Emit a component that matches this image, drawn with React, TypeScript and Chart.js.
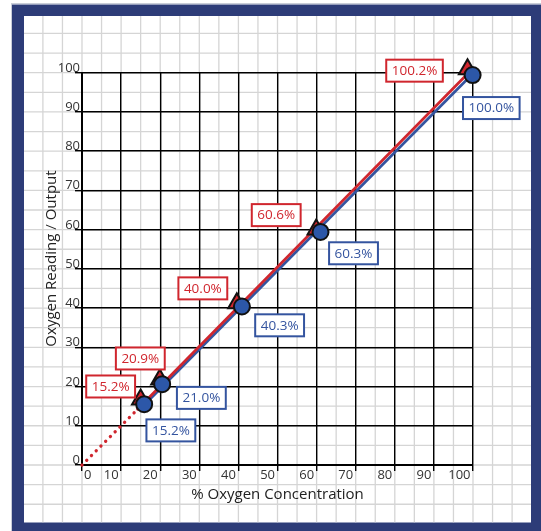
import React, { useEffect, useRef } from "react";
import { Chart, registerables } from "chart.js";

Chart.register(...registerables);

// ---- data ----
const redX = [15.0, 19.9, 39.6, 59.9, 98.6];
const redY = [16.7, 21.8, 41.2, 60.0, 100.9];
const blueX = [15.9, 20.5, 40.9, 61.0, 99.9];
const blueY = [15.5, 20.6, 40.4, 59.4, 99.4];
const redLabels = ["15.2%", "20.9%", "40.0%", "60.6%", "100.2%"];
const blueLabels = ["15.2%", "21.0%", "40.3%", "60.3%", "100.0%"];
const redLineX = [0, 14.2, 98.3];
const redLineY = [0, 14.2, 99.4];
const blueLineX = [15.9, 99.6];
const blueLineY = [15.3, 99.4];
const xTicks = [0, 10, 20, 30, 40, 50, 60, 70, 80, 90, 100];
const yTicks = [0, 10, 20, 30, 40, 50, 60, 70, 80, 90, 100];
const xTitle = "% Oxygen Concentration";
const yTitle = "Oxygen Reading / Output";

// ---- styles ----
const RED = "#d0262e";
const BLUE = "#34549f";
const NAVY = "#2d3c78";
const FONT = '"Open Sans", "Noto Sans", sans-serif';
const redLabelOffsets = [[-30, -13], [-19.5, -21], [-34, -15], [-40, -14.5], [-53, 1.5]];
const blueLabelOffsets = [[26.7, 26.2], [39.2, 13.7], [37.7, 18.8], [33, 21.3], [18.7, 33]];

const pts = (xs: number[], ys: number[]) => xs.map((x, i) => ({ x, y: ys[i] }));

const decorPlugin = {
  id: "decor",
  beforeDraw(chart: any) {
    const { ctx, width, height } = chart;
    const xs = chart.scales.x;
    const ys = chart.scales.y;
    ctx.save();
    ctx.fillStyle = "#ffffff";
    ctx.fillRect(0, 0, width, height);
    ctx.strokeStyle = "#c9cdd8";
    ctx.lineWidth = 1;
    ctx.strokeRect(11.5, 3.5, width, height);
    ctx.fillStyle = NAVY;
    ctx.fillRect(12, 4.5, width - 12, height - 4.5);
    const inL = 24, inT = 16, inR = 531, inB = 522.5;
    ctx.fillStyle = "#ffffff";
    ctx.fillRect(inL, inT, inR - inL, inB - inT);
    ctx.beginPath();
    ctx.rect(inL, inT, inR - inL, inB - inT);
    ctx.clip();
    ctx.strokeStyle = "#d5d5d5";
    ctx.lineWidth = 1.3;
    for (let v = -30; v <= 140; v += 5) {
      const px = xs.getPixelForValue(v);
      ctx.beginPath();
      ctx.moveTo(px, inT);
      ctx.lineTo(px, inB);
      ctx.stroke();
      const py = ys.getPixelForValue(v);
      ctx.beginPath();
      ctx.moveTo(inL, py);
      ctx.lineTo(inR, py);
      ctx.stroke();
    }
    ctx.restore();
  },
  afterDatasetsDraw(chart: any) {
    const { ctx } = chart;
    const xs = chart.scales.x;
    const ys = chart.scales.y;
    ctx.save();
    ctx.fillStyle = "#333333";
    ctx.font = `13px ${FONT}`;
    ctx.textBaseline = "alphabetic";
    ctx.textAlign = "right";
    yTicks.forEach((v) => {
      ctx.fillText(String(v), 80, ys.getPixelForValue(v) - 1);
    });
    xTicks.forEach((v) => {
      const px = xs.getPixelForValue(v);
      if (v === 0) {
        ctx.textAlign = "left";
        ctx.fillText(String(v), px + 2, 478.5);
      } else {
        ctx.textAlign = "right";
        ctx.fillText(String(v), px - 2.5, 478.5);
      }
    });
    ctx.fillStyle = "#222222";
    ctx.font = `15px ${FONT}`;
    ctx.textAlign = "center";
    ctx.textBaseline = "middle";
    ctx.fillText(xTitle, (chart.chartArea.left + chart.chartArea.right) / 2, 495);
    ctx.save();
    ctx.translate(51.7, 258.5);
    ctx.rotate(-Math.PI / 2);
    ctx.fillText(yTitle, 0, 0);
    ctx.restore();
    const drawBox = (text: string, cx: number, cy: number, color: string) => {
      ctx.font = `13.5px ${FONT}`;
      const w = ctx.measureText(text).width + 11;
      const h = 22;
      ctx.fillStyle = "#ffffff";
      ctx.fillRect(cx - w / 2, cy - h / 2, w, h);
      ctx.strokeStyle = color;
      ctx.lineWidth = 2;
      ctx.strokeRect(cx - w / 2, cy - h / 2, w, h);
      ctx.fillStyle = color;
      ctx.textAlign = "center";
      ctx.textBaseline = "middle";
      ctx.fillText(text, cx, cy + 0.5);
    };
    redLabels.forEach((t, i) => {
      const cx = xs.getPixelForValue(redX[i]) + redLabelOffsets[i][0];
      const cy = ys.getPixelForValue(redY[i]) + redLabelOffsets[i][1];
      drawBox(t, cx, cy, RED);
    });
    blueLabels.forEach((t, i) => {
      const cx = xs.getPixelForValue(blueX[i]) + blueLabelOffsets[i][0];
      const cy = ys.getPixelForValue(blueY[i]) + blueLabelOffsets[i][1];
      drawBox(t, cx, cy, BLUE);
    });
    ctx.restore();
  },
};

export default function App() {
  const ref = useRef<HTMLCanvasElement | null>(null);
  useEffect(() => {
    if (!ref.current) return;
    const chart = new Chart(ref.current, {
      type: "scatter",
      data: {
        datasets: [
          {
            label: "Reading",
            data: pts(blueX, blueY),
            pointStyle: "circle",
            pointRadius: 8,
            pointBackgroundColor: "#2c57a8",
            pointBorderColor: "#111111",
            pointBorderWidth: 2,
            showLine: false,
            clip: false,
            order: 0,
          } as any,
          {
            label: "Actual",
            data: pts(redX, redY),
            pointStyle: "triangle",
            pointRadius: 10,
            pointBackgroundColor: RED,
            pointBorderColor: "#111111",
            pointBorderWidth: 2,
            showLine: false,
            clip: false,
            order: 1,
          } as any,
          {
            label: "Actual line",
            type: "line",
            data: pts(redLineX, redLineY),
            borderColor: RED,
            borderWidth: 2.7,
            borderCapStyle: "round",
            pointRadius: 0,
            showLine: true,
            clip: false,
            segment: {
              borderDash: (c: any) => (c.p0DataIndex === 0 ? [0.1, 6.6] : undefined),
              borderWidth: (c: any) => (c.p0DataIndex === 0 ? 3.3 : undefined),
            },
            order: 2,
          } as any,
          {
            label: "Reading line",
            type: "line",
            data: pts(blueLineX, blueLineY),
            borderColor: BLUE,
            borderWidth: 2.7,
            pointRadius: 0,
            showLine: true,
            clip: false,
            order: 3,
          } as any,
        ],
      },
      options: {
        animation: false,
        responsive: false,
        devicePixelRatio: 1,
        layout: { padding: { left: 75, top: 72.7, right: 68, bottom: 60 } },
        plugins: { legend: { display: false }, tooltip: { enabled: false } },
        scales: {
          x: {
            type: "linear",
            min: 0,
            max: 100,
            afterBuildTicks: (s: any) => {
              s.ticks = xTicks.map((v) => ({ value: v }));
            },
            ticks: { display: false },
            grid: { color: "#000000", lineWidth: 1.4, drawTicks: true, tickLength: 6 },
            border: { display: true, color: "#000000", width: 2 },
          },
          y: {
            type: "linear",
            min: 0,
            max: 100,
            afterBuildTicks: (s: any) => {
              s.ticks = yTicks.map((v) => ({ value: v }));
            },
            ticks: { display: false },
            grid: { color: "#000000", lineWidth: 1.4, drawTicks: true, tickLength: 7 },
            border: { display: true, color: "#000000", width: 2 },
          },
        },
      } as any,
      plugins: [decorPlugin],
    });
    return () => chart.destroy();
  }, []);
  return (
    <div style={{ position: "fixed", left: 0, top: 0, width: 541, height: 531 }}>
      <canvas ref={ref} width={541} height={531} style={{ display: "block", width: 541, height: 531 }} />
    </div>
  );
}
